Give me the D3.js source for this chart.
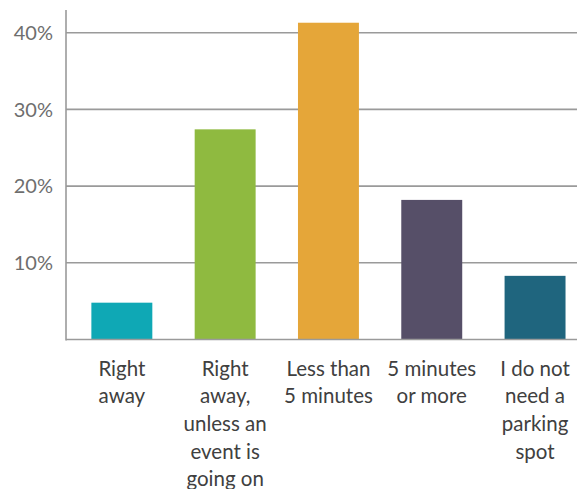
<!DOCTYPE html>
<html>
<head>
<meta charset="utf-8">
<script src="https://cdn.jsdelivr.net/npm/d3@7"></script>
<style>
  html, body { margin: 0; padding: 0; background: #fff; }
  svg { display: block; }
  text { font-family: Lato, "Open Sans", sans-serif; }
</style>
</head>
<body>
<svg id="chart" width="577" height="489"></svg>
<script>
// Survey answers: how soon people look for a parking spot
const categories = [
  "Right\naway",
  "Right\naway,\nunless an\nevent is\ngoing on",
  "Less than\n5 minutes",
  "5 minutes\nor more",
  "I do not\nneed a\nparking\nspot"
];
const values = [4.8, 27.4, 41.3, 18.2, 8.3];
const colors = ["#0fa8b5", "#8fba40", "#e5a639", "#564f68", "#1f657e"];
const yTicks = [10, 20, 30, 40];

const svg = d3.select("#chart");
const W = 577;
const axisX = 66, baseY = 339.5, topY = 10;

const y = d3.scaleLinear().domain([0, 10]).range([baseY, baseY - 76.7]);
const x = d3.scaleBand()
  .domain(categories)
  .range([70.2, 586.7])
  .paddingInner(0.41)
  .paddingOuter(0.205);

// horizontal gridlines
svg.append("g")
  .selectAll("line")
  .data(yTicks)
  .join("line")
  .attr("x1", axisX).attr("x2", W)
  .attr("y1", d => y(d)).attr("y2", d => y(d))
  .attr("stroke", "#9a9a9a")
  .attr("stroke-width", 1.6);

// y tick labels
svg.append("g")
  .selectAll("text")
  .data(yTicks)
  .join("text")
  .attr("x", 53)
  .attr("y", d => y(d) + 7.3)
  .attr("text-anchor", "end")
  .attr("fill", "#6e6e6e")
  .attr("font-size", 20)
  .text(d => d + "%");

// bars
svg.append("g")
  .selectAll("rect")
  .data(values)
  .join("rect")
  .attr("x", (d, i) => x(categories[i]))
  .attr("width", x.bandwidth())
  .attr("y", d => y(d))
  .attr("height", d => baseY - y(d))
  .attr("fill", (d, i) => colors[i]);

// axis lines
svg.append("line")
  .attr("x1", axisX).attr("x2", axisX)
  .attr("y1", topY).attr("y2", baseY + 1)
  .attr("stroke", "#9a9a9a").attr("stroke-width", 1.6);
svg.append("line")
  .attr("x1", axisX).attr("x2", W)
  .attr("y1", baseY).attr("y2", baseY)
  .attr("stroke", "#9a9a9a").attr("stroke-width", 1.6);

// category labels, one tspan per line
const labels = svg.append("g")
  .selectAll("text")
  .data(categories)
  .join("text")
  .attr("x", d => x(d) + x.bandwidth() / 2)
  .attr("y", 375.7)
  .attr("text-anchor", "middle")
  .attr("fill", "#404040")
  .attr("font-size", 20.5);
labels.selectAll("tspan")
  .data(d => d.split("\n").map(line => ({ line, cx: x(d) + x.bandwidth() / 2 })))
  .join("tspan")
  .attr("x", d => d.cx)
  .attr("dy", (d, i) => i === 0 ? 0 : 27.6)
  .text(d => d.line);
</script>
</body>
</html>
